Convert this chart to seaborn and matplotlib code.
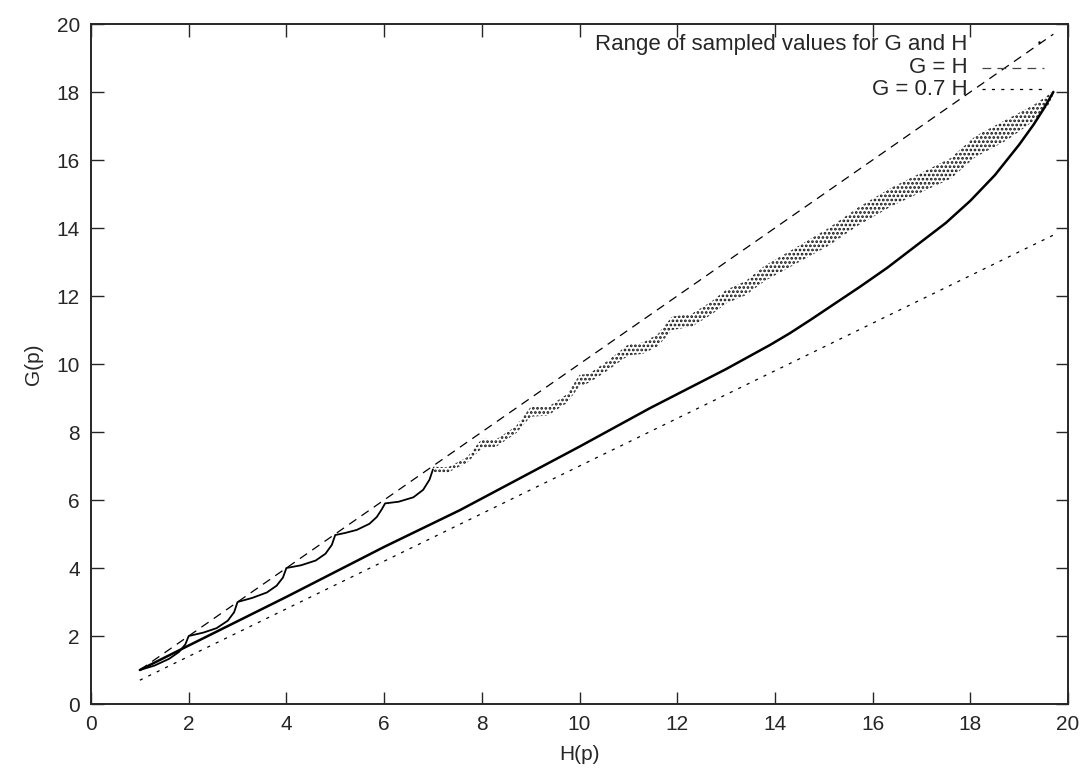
import matplotlib
matplotlib.use("Agg")
import matplotlib.pyplot as plt
import seaborn as sns
import numpy as np

# upper branch, scallops between integers
scallop_h = [1.0, 1.3, 1.6, 1.8, 1.93, 2.0,
             2.3, 2.57, 2.8, 2.93, 3.0,
             3.3, 3.6, 3.8, 3.93, 4.0,
             4.3, 4.6, 4.8, 4.93, 5.0,
             5.2, 5.44, 5.7, 5.85, 5.95, 6.02,
             6.3, 6.6, 6.8, 6.93, 7.0]
scallop_g = [1.0, 1.13, 1.33, 1.53, 1.75, 2.0,
             2.1, 2.23, 2.45, 2.7, 3.0,
             3.12, 3.28, 3.48, 3.72, 4.0,
             4.08, 4.22, 4.42, 4.68, 4.97,
             5.03, 5.12, 5.3, 5.5, 5.72, 5.9,
             5.95, 6.08, 6.3, 6.6, 6.9]

# noisy part of the upper branch: lower and upper edge of the dot cloud
band_h = [7.0, 7.3, 7.7, 8.0, 8.3, 8.7, 9.0, 9.35, 9.75, 10.0, 10.2, 10.6,
          11.0, 11.3, 11.6, 11.9, 12.3, 12.7, 13.0, 13.4, 13.8, 14.4, 15.1,
          15.7, 16.4, 17.1, 17.6, 18.1, 18.75, 19.3, 19.6, 19.7]
band_lo = [6.82, 6.8, 7.1, 7.52, 7.57, 7.96, 8.45, 8.48, 8.86, 9.35, 9.45, 9.83,
           10.25, 10.3, 10.52, 11.0, 11.1, 11.45, 11.78, 12.02, 12.45, 12.92, 13.48,
           14.07, 14.65, 15.12, 15.45, 16.08, 16.58, 17.15, 17.62, 17.92]
band_hi = [6.98, 6.96, 7.26, 7.8, 7.79, 8.17, 8.74, 8.73, 9.12, 9.68, 9.72, 10.12,
           10.58, 10.63, 10.88, 11.4, 11.48, 11.84, 12.18, 12.44, 12.9, 13.4, 14.0,
           14.6, 15.2, 15.7, 16.06, 16.7, 17.2, 17.62, 17.92, 18.05]

# lower branch
lower_h = [1.0, 2.0, 4.0, 6.0, 7.55, 10.0, 11.44, 13.0, 13.9, 14.3, 14.72,
           15.74, 16.3, 17.0, 17.5, 18.0, 18.5, 19.0, 19.3, 19.5, 19.7]
lower_g = [1.0, 1.72, 3.15, 4.62, 5.7, 7.57, 8.7, 9.85, 10.56, 10.9, 11.29,
           12.27, 12.83, 13.6, 14.15, 14.8, 15.55, 16.45, 17.05, 17.5, 18.0]

# reference lines
ref_h = [1.0, 19.7]
ref_eq = [1.0, 19.7]
ref_07 = [0.7, 13.79]

sns.set_style("ticks")
plt.rcParams["font.family"] = ["Liberation Sans", "DejaVu Sans"]
plt.rcParams["hatch.linewidth"] = 1.3

fig = plt.figure(figsize=(10.84, 7.77), dpi=100)
ax = fig.add_axes([91 / 1084, 73 / 777, 977 / 1084, 680 / 777])

sns.lineplot(x=scallop_h, y=scallop_g, ax=ax, sort=False, estimator=None,
             color="black", lw=1.3)
sns.lineplot(x=lower_h, y=lower_g, ax=ax, sort=False, estimator=None,
             color="black", lw=1.8)
ax.fill_between(band_h, band_lo, band_hi, facecolor="none", edgecolor="#111111",
                hatch="....", linewidth=0)
sns.lineplot(x=ref_h, y=ref_eq, ax=ax, color="black", lw=0.9,
             dashes=False, linestyle=(0, (7, 5)))
sns.lineplot(x=ref_h, y=ref_07, ax=ax, color="black", lw=0.9,
             dashes=False, linestyle=(0, (2.5, 5)))

ax.set_xlim(0, 20)
ax.set_ylim(0, 20)
ax.set_xticks(range(0, 21, 2))
ax.set_yticks(range(0, 21, 2))
ax.tick_params(direction="in", length=9, width=1, top=True, right=True,
               labelsize=15, pad=8)
for lab in ax.get_xticklabels() + ax.get_yticklabels():
    lab.set_family(["Liberation Sans Narrow", "Liberation Sans"])
for s in ax.spines.values():
    s.set_linewidth(1.4)

ax.set_xlabel("H(p)", fontsize=15, labelpad=8,
              family=["Liberation Sans Narrow", "Liberation Sans"])
ax.set_ylabel("G(p)", fontsize=15, rotation=90, labelpad=10,
              family=["Liberation Sans Narrow", "Liberation Sans"])

# gnuplot-style key: text right aligned, sample on the right
key_labels = ["Range of sampled values for G and H", "G = H", "G = 0.7 H"]
key_y = [0.970, 0.936, 0.904]
for lab, yk in zip(key_labels, key_y):
    ax.text(0.897, yk, lab, transform=ax.transAxes, ha="right", va="center",
            fontsize=16)
ax.plot([0.97], [key_y[0] + 0.003], transform=ax.transAxes, marker=".",
        ms=1.5, color="black", ls="none")
ax.plot([0.912, 0.975], [key_y[1], key_y[1]], transform=ax.transAxes,
        color="#444444", lw=0.9, linestyle=(0, (7, 5)))
ax.plot([0.912, 0.975], [key_y[2], key_y[2]], transform=ax.transAxes,
        color="black", lw=0.9, linestyle=(0, (2.5, 5)))

fig.savefig("out.png", dpi=100)
